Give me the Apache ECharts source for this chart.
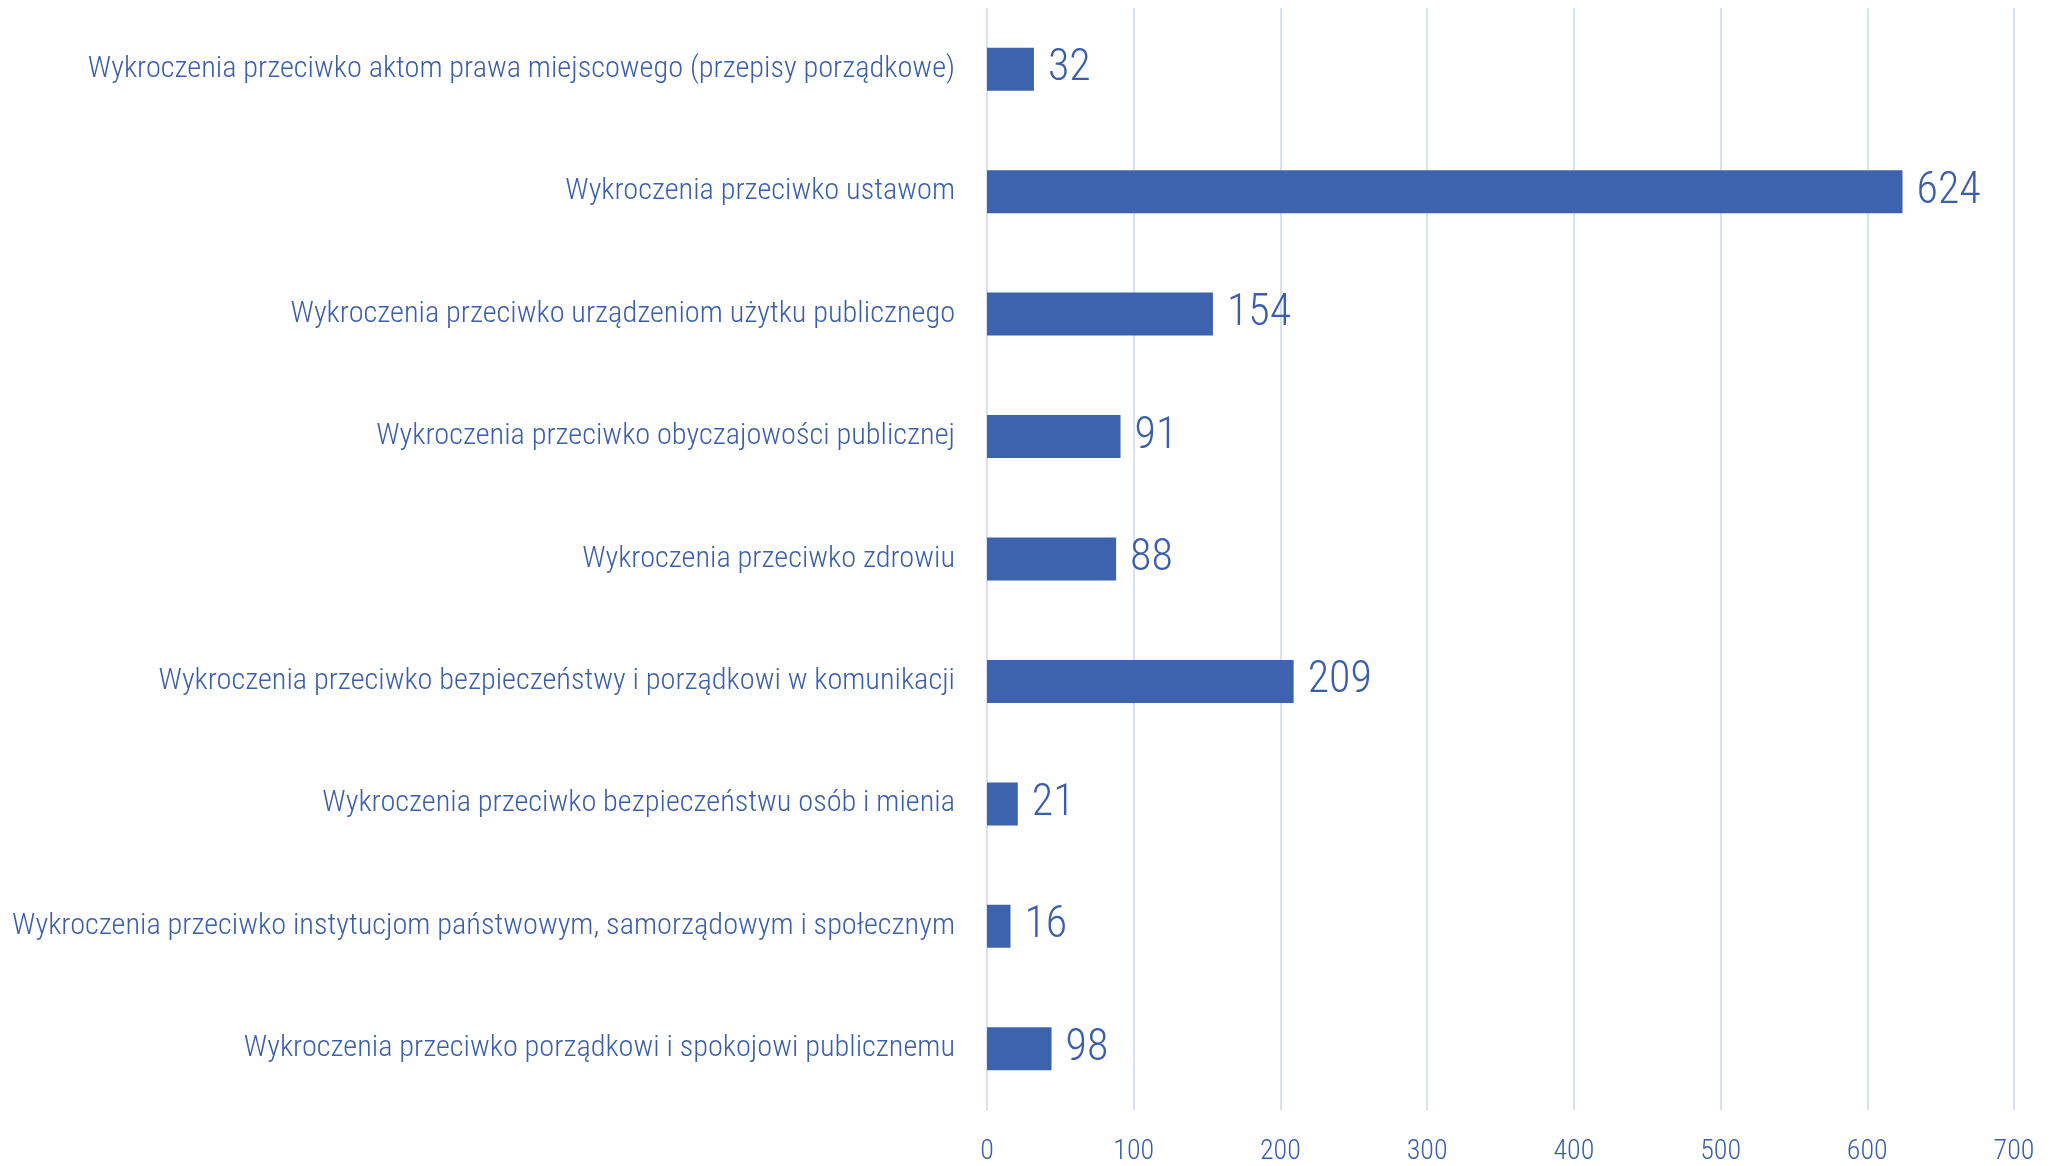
<!DOCTYPE html>
<html>
<head>
<meta charset="utf-8">
<script src="https://cdn.jsdelivr.net/npm/echarts@6/dist/echarts.min.js"></script>
<style>html,body{margin:0;padding:0;background:#fff}#main{width:2060px;height:1166px}</style>
</head>
<body>
<div id="main"></div>
<script>
const categories = [
	'Wykroczenia przeciwko aktom prawa miejscowego (przepisy porządkowe)',
	'Wykroczenia przeciwko ustawom',
	'Wykroczenia przeciwko urządzeniom użytku publicznego',
	'Wykroczenia przeciwko obyczajowości publicznej',
	'Wykroczenia przeciwko zdrowiu',
	'Wykroczenia przeciwko bezpieczeństwy i porządkowi w komunikacji',
	'Wykroczenia przeciwko bezpieczeństwu osób i mienia',
	'Wykroczenia przeciwko instytucjom państwowym, samorządowym i społecznym',
	'Wykroczenia przeciwko porządkowi i spokojowi publicznemu'
]
// printed values next to the bars
const labelValues = [32, 624, 154, 91, 88, 209, 21, 16, 98]
// bar lengths as drawn (the "98" bar is only drawn to ~44 in the source)
const barLengths = [32, 624, 154, 91, 88, 209, 21, 16, 44]
const xTicks = [0, 100, 200, 300, 400, 500, 600, 700]

const font = '"Roboto Condensed", "DejaVu Sans Condensed", sans-serif'
const blue = '#3d63ae'
const textBlue = '#3a5eaa'

echarts.init(document.getElementById('main')).setOption({
	animation: false,
	grid: {
		left: 987,
		right: 46,
		top: 8,
		bottom: 48
	},
	xAxis: {
		type: 'value',
		min: xTicks[0],
		max: xTicks[xTicks.length - 1],
		interval: 100,
		axisLine: { show: false },
		axisTick: { show: false },
		splitLine: { lineStyle: { color: '#cbd6ee', width: 1.5 } },
		axisLabel: {
			margin: 28,
			color: textBlue,
			fontFamily: font,
			fontSize: 28,
			fontWeight: 300
		}
	},
	yAxis: {
		type: 'category',
		inverse: true,
		data: categories,
		axisLine: { show: false },
		axisTick: { show: false },
		axisLabel: {
			margin: 32,
			color: textBlue,
			fontFamily: font,
			fontSize: 30.3,
			fontWeight: 300
		}
	},
	series: [{
		type: 'bar',
		data: barLengths,
		barWidth: 43,
		itemStyle: { color: blue },
		label: {
			show: true,
			position: 'right',
			distance: 14,
			color: textBlue,
			fontFamily: font,
			fontSize: 44,
			fontWeight: 300,
			formatter: p => labelValues[p.dataIndex]
		}
	}]
})
</script>
</body>
</html>
